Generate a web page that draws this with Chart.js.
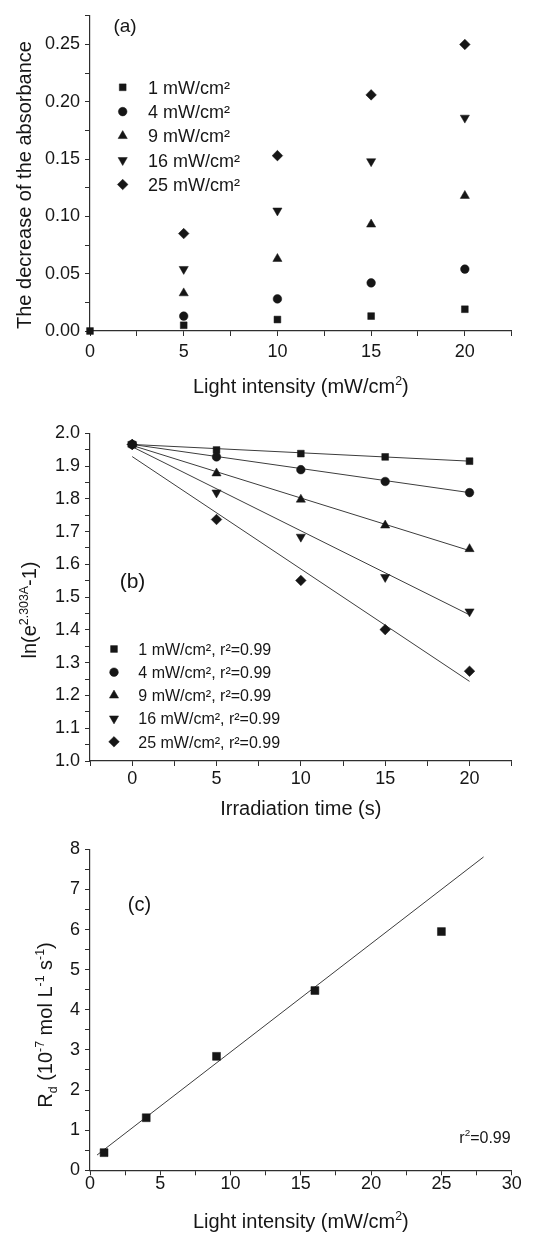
<!DOCTYPE html>
<html>
<head>
<meta charset="utf-8">
<script src="https://cdn.jsdelivr.net/npm/chart.js@4.4.0/dist/chart.umd.min.js"></script>
<style>
  body { margin: 0; background: #fff; }
  canvas { position: absolute; left: 0; }
</style>
</head>
<body>
<canvas id="chartA" width="536" height="405" style="top:0px"></canvas>
<canvas id="chartB" width="536" height="417" style="top:405px"></canvas>
<canvas id="chartC" width="536" height="414" style="top:822px"></canvas>
<script>
// series names (light intensity of each run)
const seriesNames = ['1 mW/cm²', '4 mW/cm²', '9 mW/cm²', '16 mW/cm²', '25 mW/cm²'];

// (a) decrease of the absorbance
const xA = [0, 5, 10, 15, 20];
const absDec1 = [0, 0.005, 0.010, 0.013, 0.019];
const absDec4 = [null, 0.013, 0.028, 0.042, 0.054];
const absDec9 = [null, 0.033, 0.063, 0.093, 0.118];
const absDec16 = [null, 0.054, 0.105, 0.148, 0.186];
const absDec25 = [null, 0.085, 0.153, 0.206, 0.250];

// (b) ln(e^2.303A - 1) vs irradiation time
const timeB = [0, 5, 10, 15, 20];
const lnB1 = [1.966, 1.949, 1.938, 1.928, 1.915];
const lnB4 = [1.966, 1.928, 1.889, 1.853, 1.819];
const lnB9 = [1.966, 1.878, 1.798, 1.719, 1.647];
const lnB16 = [1.966, 1.819, 1.684, 1.561, 1.456];
const lnB25 = [1.966, 1.737, 1.551, 1.401, 1.274];
// fitted lines, values at t = 0 and t = 20
const fitTimeB = [0, 20];
const fitB1 = [1.966, 1.915];
const fitB4 = [1.966, 1.819];
const fitB9 = [1.963, 1.642];
const fitB16 = [1.959, 1.446];
const fitB25 = [1.929, 1.243];

// (c) Rd vs light intensity
const intensC = [1, 4, 9, 16, 25];
const rateC = [0.44, 1.31, 2.84, 4.48, 5.95];
const fitIntensC = [0.5, 28];
const fitRateC = [0.38, 7.81];

const ink = '#161616';
const axisColor = '#2e2e2e';
const fontFamily = '"Liberation Sans", Arial, sans-serif';
const markerStyles = ['rect', 'circle', 'triangle', 'triangle', 'rectRot'];
const markerRotations = [0, 0, 0, 180, 0];
const markerRadii = [4.8, 4.3, 5.3, 5.3, 5.3];

function points(xs, ys) {
  return xs.map((x, i) => ({ x: x, y: ys[i] })).filter(p => p.y !== null);
}

function markerSet(label, xs, ys, k, radius) {
  return {
    label: label,
    data: points(xs, ys),
    showLine: false,
    pointStyle: markerStyles[k],
    rotation: markerRotations[k],
    pointRadius: radius || markerRadii[k],
    pointBorderWidth: 0.5,
    backgroundColor: ink,
    borderColor: ink,
    clip: false
  };
}

function fitSet(xs, ys) {
  return {
    label: 'fit',
    data: points(xs, ys),
    showLine: true,
    pointRadius: 0,
    borderColor: '#3c3c3c',
    borderWidth: 1,
    fill: false,
    clip: false
  };
}

function linAxis(o) {
  return {
    type: 'linear',
    min: o.min,
    max: o.max,
    afterFit: s => { if (o.isY) s.width = o.size; else s.height = o.size; },
    ticks: {
      stepSize: o.step,
      autoSkip: false,
      maxRotation: 0,
      padding: o.pad,
      color: ink,
      font: { family: fontFamily, size: 18 },
      callback: v => {
        const q = v / o.major;
        return Math.abs(q - Math.round(q)) < 1e-6 ? o.fmt(v) : '';
      }
    },
    grid: { drawOnChartArea: false, tickLength: 5, tickColor: axisColor, tickWidth: 1 },
    border: { color: axisColor, width: 1.2 }
  };
}

// text with sub/superscripts; (x, y) is the middle of the capitals
function drawRich(ctx, parts, x, y, size, rotate, alignLeft) {
  ctx.save();
  ctx.translate(x, y);
  if (rotate) ctx.rotate(-Math.PI / 2);
  ctx.fillStyle = ink;
  ctx.textAlign = 'left';
  ctx.textBaseline = 'alphabetic';
  const small = size * 0.62;
  const fontOf = p => (p.sup || p.sub ? small : size) + 'px ' + fontFamily;
  const widths = parts.map(p => { ctx.font = fontOf(p); return ctx.measureText(p.t).width; });
  const total = widths.reduce((a, b) => a + b, 0);
  let cx = alignLeft ? 0 : -total / 2;
  const base = size * 0.358;
  parts.forEach((p, i) => {
    ctx.font = fontOf(p);
    let dy = base;
    if (p.sup) dy = base - size * 0.42;
    if (p.sub) dy = base + size * 0.22;
    ctx.fillText(p.t, cx, dy);
    cx += widths[i];
  });
  ctx.restore();
}

// titles, panel letters and the legend, drawn after the chart
function makeDecor(cfg) {
  return {
    id: 'decor',
    afterDraw(chart) {
      const ctx = chart.ctx;
      cfg.texts.forEach(t => drawRich(ctx, t.parts, t.x, t.y, t.size, t.rotate, false));
      const L = cfg.legend;
      if (!L) return;
      chart.data.datasets.slice(0, L.count).forEach((ds, i) => {
        const y = L.y + i * L.step;
        ctx.save();
        ctx.fillStyle = ink;
        ctx.strokeStyle = ink;
        ctx.lineWidth = 0.5;
        Chart.helpers.drawPoint(ctx, {
          pointStyle: ds.pointStyle,
          rotation: ds.rotation,
          radius: ds.pointRadius,
          borderWidth: 0.5
        }, L.markX, y);
        ctx.restore();
        drawRich(ctx, [{ t: ds.label + (L.suffix || '') }], L.textX, y, L.size, false, true);
      });
    }
  };
}

function baseOptions(pad, scales) {
  return {
    responsive: false,
    animation: false,
    events: [],
    layout: { padding: { top: pad.top, right: pad.right, left: 0, bottom: 0 } },
    scales: scales,
    plugins: {
      legend: { display: false },
      tooltip: { enabled: false }
    }
  };
}

// ---------- (a) ----------
new Chart(document.getElementById('chartA'), {
  type: 'scatter',
  data: {
    datasets: [
      markerSet(seriesNames[0], xA, absDec1, 0),
      markerSet(seriesNames[1], xA, absDec4, 1),
      markerSet(seriesNames[2], xA, absDec9, 2),
      markerSet(seriesNames[3], xA, absDec16, 3),
      markerSet(seriesNames[4], xA, absDec25, 4)
    ]
  },
  options: baseOptions({ top: 10, right: 24.3 }, {
    x: linAxis({ min: 0, max: 22.5, step: 2.5, major: 5, fmt: v => String(v), size: 74, pad: 5 }),
    y: linAxis({ min: 0, max: 0.275, step: 0.025, major: 0.05, fmt: v => v.toFixed(2), size: 90, pad: 5, isY: true })
  }),
  plugins: [makeDecor({
    legend: { count: 5, markX: 122.7, textX: 148, y: 87.3, step: 24.3, size: 18 },
    texts: [
      { parts: [{ t: '(a)' }], x: 125, y: 25, size: 19 },
      { parts: [{ t: 'Light intensity (mW/cm' }, { t: '2', sup: true }, { t: ')' }], x: 300.8, y: 386, size: 20 },
      { parts: [{ t: 'The decrease of the absorbance' }], x: 24, y: 185, size: 20, rotate: true }
    ]
  })]
});

// ---------- (b) ----------
new Chart(document.getElementById('chartB'), {
  type: 'scatter',
  data: {
    datasets: [
      markerSet(seriesNames[0], timeB, lnB1, 0),
      markerSet(seriesNames[1], timeB, lnB4, 1),
      markerSet(seriesNames[2], timeB, lnB9, 2),
      markerSet(seriesNames[3], timeB, lnB16, 3),
      markerSet(seriesNames[4], timeB, lnB25, 4),
      fitSet(fitTimeB, fitB1),
      fitSet(fitTimeB, fitB4),
      fitSet(fitTimeB, fitB9),
      fitSet(fitTimeB, fitB16),
      fitSet(fitTimeB, fitB25)
    ]
  },
  options: baseOptions({ top: 28.3, right: 24.3 }, {
    x: linAxis({ min: -2.5, max: 22.5, step: 2.5, major: 5, fmt: v => String(v), size: 61, pad: 2 }),
    y: linAxis({ min: 1.0, max: 2.0, step: 0.05, major: 0.1, fmt: v => v.toFixed(1), size: 90, pad: 5, isY: true })
  }),
  plugins: [makeDecor({
    legend: { count: 5, markX: 114, textX: 138.3, y: 244, step: 23.2, size: 16, suffix: ', r²=0.99' },
    texts: [
      { parts: [{ t: '(b)' }], x: 132.5, y: 175, size: 21 },
      { parts: [{ t: 'Irradiation time (s)' }], x: 300.8, y: 403, size: 20 },
      { parts: [{ t: 'ln(e' }, { t: '2.303A', sup: true }, { t: '-1)' }], x: 29, y: 205, size: 20, rotate: true }
    ]
  })]
});

// ---------- (c) ----------
new Chart(document.getElementById('chartC'), {
  type: 'scatter',
  data: {
    datasets: [
      markerSet('Rd', intensC, rateC, 0, 5.6),
      fitSet(fitIntensC, fitRateC)
    ]
  },
  options: baseOptions({ top: 27.3, right: 24.3 }, {
    x: linAxis({ min: 0, max: 30, step: 2.5, major: 5, fmt: v => String(v), size: 65.7, pad: -2 }),
    y: linAxis({ min: 0, max: 8, step: 0.5, major: 1, fmt: v => String(v), size: 90, pad: 5, isY: true })
  }),
  plugins: [makeDecor({
    texts: [
      { parts: [{ t: '(c)' }], x: 139.5, y: 82, size: 20 },
      { parts: [{ t: 'r' }, { t: '2', sup: true }, { t: '=0.99' }], x: 485, y: 315, size: 16 },
      { parts: [{ t: 'Light intensity (mW/cm' }, { t: '2', sup: true }, { t: ')' }], x: 300.8, y: 399, size: 20 },
      { parts: [{ t: 'R' }, { t: 'd', sub: true }, { t: ' (10' }, { t: '-7', sup: true }, { t: ' mol L' }, { t: '-1', sup: true }, { t: ' s' }, { t: '-1', sup: true }, { t: ')' }], x: 45, y: 203, size: 20, rotate: true }
    ]
  })]
});
</script>
</body>
</html>
